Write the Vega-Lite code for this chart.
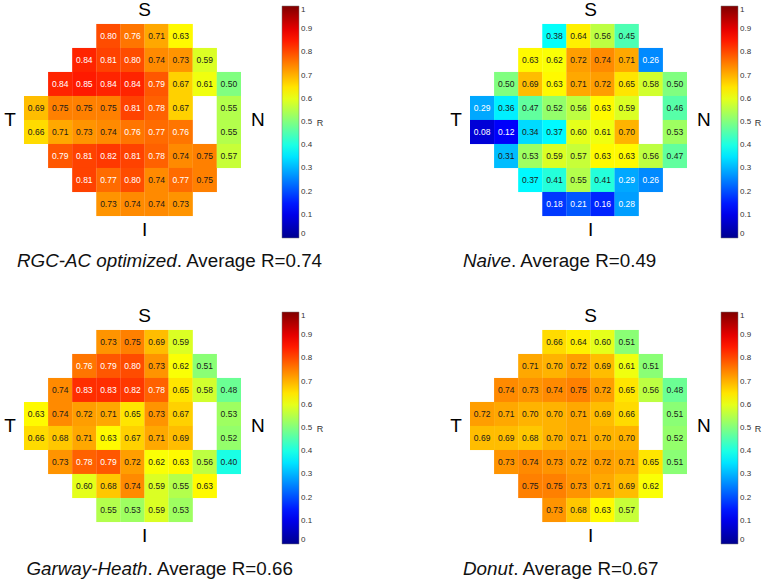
{
  "$schema": "https://vega.github.io/schema/vega-lite/v6.json",
  "padding": 0,
  "background": "white",
  "datasets": {
    "p1": [
      {"c":3,"r":0,"v":0.80},{"c":4,"r":0,"v":0.76},{"c":5,"r":0,"v":0.71},{"c":6,"r":0,"v":0.63},
      {"c":2,"r":1,"v":0.84},{"c":3,"r":1,"v":0.81},{"c":4,"r":1,"v":0.80},{"c":5,"r":1,"v":0.74},{"c":6,"r":1,"v":0.73},{"c":7,"r":1,"v":0.59},
      {"c":1,"r":2,"v":0.84},{"c":2,"r":2,"v":0.85},{"c":3,"r":2,"v":0.84},{"c":4,"r":2,"v":0.84},{"c":5,"r":2,"v":0.79},{"c":6,"r":2,"v":0.67},{"c":7,"r":2,"v":0.61},{"c":8,"r":2,"v":0.50},
      {"c":0,"r":3,"v":0.69},{"c":1,"r":3,"v":0.75},{"c":2,"r":3,"v":0.75},{"c":3,"r":3,"v":0.75},{"c":4,"r":3,"v":0.81},{"c":5,"r":3,"v":0.78},{"c":6,"r":3,"v":0.67},{"c":8,"r":3,"v":0.55},
      {"c":0,"r":4,"v":0.66},{"c":1,"r":4,"v":0.71},{"c":2,"r":4,"v":0.73},{"c":3,"r":4,"v":0.74},{"c":4,"r":4,"v":0.76},{"c":5,"r":4,"v":0.77},{"c":6,"r":4,"v":0.76},{"c":8,"r":4,"v":0.55},
      {"c":1,"r":5,"v":0.79},{"c":2,"r":5,"v":0.81},{"c":3,"r":5,"v":0.82},{"c":4,"r":5,"v":0.81},{"c":5,"r":5,"v":0.78},{"c":6,"r":5,"v":0.74},{"c":7,"r":5,"v":0.75},{"c":8,"r":5,"v":0.57},
      {"c":2,"r":6,"v":0.81},{"c":3,"r":6,"v":0.77},{"c":4,"r":6,"v":0.80},{"c":5,"r":6,"v":0.74},{"c":6,"r":6,"v":0.77},{"c":7,"r":6,"v":0.75},
      {"c":3,"r":7,"v":0.73},{"c":4,"r":7,"v":0.74},{"c":5,"r":7,"v":0.74},{"c":6,"r":7,"v":0.73}
    ],
    "p2": [
      {"c":3,"r":0,"v":0.38},{"c":4,"r":0,"v":0.64},{"c":5,"r":0,"v":0.56},{"c":6,"r":0,"v":0.45},
      {"c":2,"r":1,"v":0.63},{"c":3,"r":1,"v":0.62},{"c":4,"r":1,"v":0.72},{"c":5,"r":1,"v":0.74},{"c":6,"r":1,"v":0.71},{"c":7,"r":1,"v":0.26},
      {"c":1,"r":2,"v":0.50},{"c":2,"r":2,"v":0.69},{"c":3,"r":2,"v":0.63},{"c":4,"r":2,"v":0.71},{"c":5,"r":2,"v":0.72},{"c":6,"r":2,"v":0.65},{"c":7,"r":2,"v":0.58},{"c":8,"r":2,"v":0.50},
      {"c":0,"r":3,"v":0.29},{"c":1,"r":3,"v":0.36},{"c":2,"r":3,"v":0.47},{"c":3,"r":3,"v":0.52},{"c":4,"r":3,"v":0.56},{"c":5,"r":3,"v":0.63},{"c":6,"r":3,"v":0.59},{"c":8,"r":3,"v":0.46},
      {"c":0,"r":4,"v":0.08},{"c":1,"r":4,"v":0.12},{"c":2,"r":4,"v":0.34},{"c":3,"r":4,"v":0.37},{"c":4,"r":4,"v":0.60},{"c":5,"r":4,"v":0.61},{"c":6,"r":4,"v":0.70},{"c":8,"r":4,"v":0.53},
      {"c":1,"r":5,"v":0.31},{"c":2,"r":5,"v":0.53},{"c":3,"r":5,"v":0.59},{"c":4,"r":5,"v":0.57},{"c":5,"r":5,"v":0.63},{"c":6,"r":5,"v":0.63},{"c":7,"r":5,"v":0.56},{"c":8,"r":5,"v":0.47},
      {"c":2,"r":6,"v":0.37},{"c":3,"r":6,"v":0.41},{"c":4,"r":6,"v":0.55},{"c":5,"r":6,"v":0.41},{"c":6,"r":6,"v":0.29},{"c":7,"r":6,"v":0.26},
      {"c":3,"r":7,"v":0.18},{"c":4,"r":7,"v":0.21},{"c":5,"r":7,"v":0.16},{"c":6,"r":7,"v":0.28}
    ],
    "p3": [
      {"c":3,"r":0,"v":0.73},{"c":4,"r":0,"v":0.75},{"c":5,"r":0,"v":0.69},{"c":6,"r":0,"v":0.59},
      {"c":2,"r":1,"v":0.76},{"c":3,"r":1,"v":0.79},{"c":4,"r":1,"v":0.80},{"c":5,"r":1,"v":0.73},{"c":6,"r":1,"v":0.62},{"c":7,"r":1,"v":0.51},
      {"c":1,"r":2,"v":0.74},{"c":2,"r":2,"v":0.83},{"c":3,"r":2,"v":0.83},{"c":4,"r":2,"v":0.82},{"c":5,"r":2,"v":0.78},{"c":6,"r":2,"v":0.65},{"c":7,"r":2,"v":0.58},{"c":8,"r":2,"v":0.48},
      {"c":0,"r":3,"v":0.63},{"c":1,"r":3,"v":0.74},{"c":2,"r":3,"v":0.72},{"c":3,"r":3,"v":0.71},{"c":4,"r":3,"v":0.65},{"c":5,"r":3,"v":0.73},{"c":6,"r":3,"v":0.67},{"c":8,"r":3,"v":0.53},
      {"c":0,"r":4,"v":0.66},{"c":1,"r":4,"v":0.68},{"c":2,"r":4,"v":0.71},{"c":3,"r":4,"v":0.63},{"c":4,"r":4,"v":0.67},{"c":5,"r":4,"v":0.71},{"c":6,"r":4,"v":0.69},{"c":8,"r":4,"v":0.52},
      {"c":1,"r":5,"v":0.73},{"c":2,"r":5,"v":0.78},{"c":3,"r":5,"v":0.79},{"c":4,"r":5,"v":0.72},{"c":5,"r":5,"v":0.62},{"c":6,"r":5,"v":0.63},{"c":7,"r":5,"v":0.56},{"c":8,"r":5,"v":0.40},
      {"c":2,"r":6,"v":0.60},{"c":3,"r":6,"v":0.68},{"c":4,"r":6,"v":0.74},{"c":5,"r":6,"v":0.59},{"c":6,"r":6,"v":0.55},{"c":7,"r":6,"v":0.63},
      {"c":3,"r":7,"v":0.55},{"c":4,"r":7,"v":0.53},{"c":5,"r":7,"v":0.59},{"c":6,"r":7,"v":0.53}
    ],
    "p4": [
      {"c":3,"r":0,"v":0.66},{"c":4,"r":0,"v":0.64},{"c":5,"r":0,"v":0.60},{"c":6,"r":0,"v":0.51},
      {"c":2,"r":1,"v":0.71},{"c":3,"r":1,"v":0.70},{"c":4,"r":1,"v":0.72},{"c":5,"r":1,"v":0.69},{"c":6,"r":1,"v":0.61},{"c":7,"r":1,"v":0.51},
      {"c":1,"r":2,"v":0.74},{"c":2,"r":2,"v":0.73},{"c":3,"r":2,"v":0.74},{"c":4,"r":2,"v":0.75},{"c":5,"r":2,"v":0.72},{"c":6,"r":2,"v":0.65},{"c":7,"r":2,"v":0.56},{"c":8,"r":2,"v":0.48},
      {"c":0,"r":3,"v":0.72},{"c":1,"r":3,"v":0.71},{"c":2,"r":3,"v":0.70},{"c":3,"r":3,"v":0.70},{"c":4,"r":3,"v":0.71},{"c":5,"r":3,"v":0.69},{"c":6,"r":3,"v":0.66},{"c":8,"r":3,"v":0.51},
      {"c":0,"r":4,"v":0.69},{"c":1,"r":4,"v":0.69},{"c":2,"r":4,"v":0.68},{"c":3,"r":4,"v":0.70},{"c":4,"r":4,"v":0.71},{"c":5,"r":4,"v":0.70},{"c":6,"r":4,"v":0.70},{"c":8,"r":4,"v":0.52},
      {"c":1,"r":5,"v":0.73},{"c":2,"r":5,"v":0.74},{"c":3,"r":5,"v":0.73},{"c":4,"r":5,"v":0.72},{"c":5,"r":5,"v":0.72},{"c":6,"r":5,"v":0.71},{"c":7,"r":5,"v":0.65},{"c":8,"r":5,"v":0.51},
      {"c":2,"r":6,"v":0.75},{"c":3,"r":6,"v":0.75},{"c":4,"r":6,"v":0.73},{"c":5,"r":6,"v":0.71},{"c":6,"r":6,"v":0.69},{"c":7,"r":6,"v":0.62},
      {"c":3,"r":7,"v":0.73},{"c":4,"r":7,"v":0.68},{"c":5,"r":7,"v":0.63},{"c":6,"r":7,"v":0.57}
    ]
  },
  "columns": 2,
  "spacing": {"row": 30, "column": 122},
  "resolve": {"scale": {"color": "independent"}, "legend": {"color": "independent"}},
  "concat": [
    {
      "width": 265, "height": 276,
      "layer": [
        {"data": {"name": "p1"}, "mark": {"type": "rect", "width": 24.3, "height": 24.1},
         "encoding": {
           "x": {"field": "c", "type": "quantitative", "scale": {"domain": [-1.5, 9.5], "nice": false, "zero": false}, "axis": null},
           "y": {"field": "r", "type": "quantitative", "scale": {"domain": [-1.5, 10], "nice": false, "zero": false, "reverse": true}, "axis": null},
           "color": {"field": "v", "type": "quantitative", "title": null,
             "scale": {"type": "linear", "domain": [0, 0.125, 0.375, 0.625, 0.875, 1], "range": ["#00008f", "#0000ff", "#00ffff", "#ffff00", "#ff0000", "#800000"], "interpolate": "rgb"},
             "legend": {"values": [0, 0.1, 0.2, 0.3, 0.4, 0.5, 0.6, 0.7, 0.8, 0.9, 1], "format": "~g", "offset": 11}}
         }},
        {"data": {"name": "p1"}, "mark": {"type": "text", "fontSize": 8.5, "font": "Liberation Sans"},
         "encoding": {
           "x": {"field": "c", "type": "quantitative", "axis": null},
           "y": {"field": "r", "type": "quantitative", "axis": null},
           "text": {"field": "v", "type": "quantitative", "format": ".2f"},
           "color": {"condition": {"test": "datum.v >= 0.755 || datum.v < 0.295", "value": "white"}, "value": "#1a1a1a"}
         }},
        {"data": {"values": [{}]}, "mark": {"type": "text", "text": "S", "fontSize": 19, "font": "Liberation Sans", "color": "black"},
         "encoding": {"x": {"datum": 4.5, "type": "quantitative", "axis": null}, "y": {"datum": -1.08, "type": "quantitative", "axis": null}}},
        {"data": {"values": [{}]}, "mark": {"type": "text", "text": "I", "fontSize": 19, "font": "Liberation Sans", "color": "black"},
         "encoding": {"x": {"datum": 4.5, "type": "quantitative", "axis": null}, "y": {"datum": 8.08, "type": "quantitative", "axis": null}}},
        {"data": {"values": [{}]}, "mark": {"type": "text", "text": "T", "fontSize": 19, "font": "Liberation Sans", "color": "black"},
         "encoding": {"x": {"datum": -1.085, "type": "quantitative", "axis": null}, "y": {"datum": 3.5, "type": "quantitative", "axis": null}}},
        {"data": {"values": [{}]}, "mark": {"type": "text", "text": "N", "fontSize": 19, "font": "Liberation Sans", "color": "black"},
         "encoding": {"x": {"datum": 9.2, "type": "quantitative", "axis": null}, "y": {"datum": 3.5, "type": "quantitative", "axis": null}}},
        {"data": {"values": [{}]}, "mark": {"type": "text", "text": "R", "fontSize": 9, "font": "Liberation Sans", "color": "#333"},
         "encoding": {"x": {"datum": 11.78, "type": "quantitative", "axis": null}, "y": {"datum": 3.62, "type": "quantitative", "axis": null}}},
        {"data": {"values": [{}]}, "mark": {"type": "text", "text": "RGC-AC optimized", "fontStyle": "italic", "align": "right", "fontSize": 18.8, "font": "Liberation Sans", "color": "#111"},
         "encoding": {"x": {"datum": 5.836, "type": "quantitative", "axis": null}, "y": {"datum": 9.375, "type": "quantitative", "axis": null}}},
        {"data": {"values": [{}]}, "mark": {"type": "text", "text": ". Average R=0.74", "align": "left", "fontSize": 18.8, "font": "Liberation Sans", "color": "#111"},
         "encoding": {"x": {"datum": 5.836, "type": "quantitative", "axis": null}, "y": {"datum": 9.375, "type": "quantitative", "axis": null}}}
      ]
    },
    {
      "width": 265, "height": 276,
      "layer": [
        {"data": {"name": "p2"}, "mark": {"type": "rect", "width": 24.3, "height": 24.1},
         "encoding": {
           "x": {"field": "c", "type": "quantitative", "scale": {"domain": [-1.5, 9.5], "nice": false, "zero": false}, "axis": null},
           "y": {"field": "r", "type": "quantitative", "scale": {"domain": [-1.5, 10], "nice": false, "zero": false, "reverse": true}, "axis": null},
           "color": {"field": "v", "type": "quantitative", "title": null,
             "scale": {"type": "linear", "domain": [0, 0.125, 0.375, 0.625, 0.875, 1], "range": ["#00008f", "#0000ff", "#00ffff", "#ffff00", "#ff0000", "#800000"], "interpolate": "rgb"},
             "legend": {"values": [0, 0.1, 0.2, 0.3, 0.4, 0.5, 0.6, 0.7, 0.8, 0.9, 1], "format": "~g", "offset": 4}}
         }},
        {"data": {"name": "p2"}, "mark": {"type": "text", "fontSize": 8.5, "font": "Liberation Sans"},
         "encoding": {
           "x": {"field": "c", "type": "quantitative", "axis": null},
           "y": {"field": "r", "type": "quantitative", "axis": null},
           "text": {"field": "v", "type": "quantitative", "format": ".2f"},
           "color": {"condition": {"test": "datum.v >= 0.755 || datum.v < 0.295", "value": "white"}, "value": "#1a1a1a"}
         }},
        {"data": {"values": [{}]}, "mark": {"type": "text", "text": "S", "fontSize": 19, "font": "Liberation Sans", "color": "black"},
         "encoding": {"x": {"datum": 4.5, "type": "quantitative", "axis": null}, "y": {"datum": -1.08, "type": "quantitative", "axis": null}}},
        {"data": {"values": [{}]}, "mark": {"type": "text", "text": "I", "fontSize": 19, "font": "Liberation Sans", "color": "black"},
         "encoding": {"x": {"datum": 4.5, "type": "quantitative", "axis": null}, "y": {"datum": 8.08, "type": "quantitative", "axis": null}}},
        {"data": {"values": [{}]}, "mark": {"type": "text", "text": "T", "fontSize": 19, "font": "Liberation Sans", "color": "black"},
         "encoding": {"x": {"datum": -1.085, "type": "quantitative", "axis": null}, "y": {"datum": 3.5, "type": "quantitative", "axis": null}}},
        {"data": {"values": [{}]}, "mark": {"type": "text", "text": "N", "fontSize": 19, "font": "Liberation Sans", "color": "black"},
         "encoding": {"x": {"datum": 9.2, "type": "quantitative", "axis": null}, "y": {"datum": 3.5, "type": "quantitative", "axis": null}}},
        {"data": {"values": [{}]}, "mark": {"type": "text", "text": "R", "fontSize": 9, "font": "Liberation Sans", "color": "#333"},
         "encoding": {"x": {"datum": 11.45, "type": "quantitative", "axis": null}, "y": {"datum": 3.62, "type": "quantitative", "axis": null}}},
        {"data": {"values": [{}]}, "mark": {"type": "text", "text": "Naive", "fontStyle": "italic", "align": "right", "fontSize": 18.8, "font": "Liberation Sans", "color": "#111"},
         "encoding": {"x": {"datum": 1.197, "type": "quantitative", "axis": null}, "y": {"datum": 9.375, "type": "quantitative", "axis": null}}},
        {"data": {"values": [{}]}, "mark": {"type": "text", "text": ". Average R=0.49", "align": "left", "fontSize": 18.8, "font": "Liberation Sans", "color": "#111"},
         "encoding": {"x": {"datum": 1.197, "type": "quantitative", "axis": null}, "y": {"datum": 9.375, "type": "quantitative", "axis": null}}}
      ]
    },
    {
      "width": 265, "height": 276,
      "layer": [
        {"data": {"name": "p3"}, "mark": {"type": "rect", "width": 24.3, "height": 24.1},
         "encoding": {
           "x": {"field": "c", "type": "quantitative", "scale": {"domain": [-1.5, 9.5], "nice": false, "zero": false}, "axis": null},
           "y": {"field": "r", "type": "quantitative", "scale": {"domain": [-1.5, 10], "nice": false, "zero": false, "reverse": true}, "axis": null},
           "color": {"field": "v", "type": "quantitative", "title": null,
             "scale": {"type": "linear", "domain": [0, 0.125, 0.375, 0.625, 0.875, 1], "range": ["#00008f", "#0000ff", "#00ffff", "#ffff00", "#ff0000", "#800000"], "interpolate": "rgb"},
             "legend": {"values": [0, 0.1, 0.2, 0.3, 0.4, 0.5, 0.6, 0.7, 0.8, 0.9, 1], "format": "~g", "offset": 11}}
         }},
        {"data": {"name": "p3"}, "mark": {"type": "text", "fontSize": 8.5, "font": "Liberation Sans"},
         "encoding": {
           "x": {"field": "c", "type": "quantitative", "axis": null},
           "y": {"field": "r", "type": "quantitative", "axis": null},
           "text": {"field": "v", "type": "quantitative", "format": ".2f"},
           "color": {"condition": {"test": "datum.v >= 0.755 || datum.v < 0.295", "value": "white"}, "value": "#1a1a1a"}
         }},
        {"data": {"values": [{}]}, "mark": {"type": "text", "text": "S", "fontSize": 19, "font": "Liberation Sans", "color": "black"},
         "encoding": {"x": {"datum": 4.5, "type": "quantitative", "axis": null}, "y": {"datum": -1.08, "type": "quantitative", "axis": null}}},
        {"data": {"values": [{}]}, "mark": {"type": "text", "text": "I", "fontSize": 19, "font": "Liberation Sans", "color": "black"},
         "encoding": {"x": {"datum": 4.5, "type": "quantitative", "axis": null}, "y": {"datum": 8.08, "type": "quantitative", "axis": null}}},
        {"data": {"values": [{}]}, "mark": {"type": "text", "text": "T", "fontSize": 19, "font": "Liberation Sans", "color": "black"},
         "encoding": {"x": {"datum": -1.085, "type": "quantitative", "axis": null}, "y": {"datum": 3.5, "type": "quantitative", "axis": null}}},
        {"data": {"values": [{}]}, "mark": {"type": "text", "text": "N", "fontSize": 19, "font": "Liberation Sans", "color": "black"},
         "encoding": {"x": {"datum": 9.2, "type": "quantitative", "axis": null}, "y": {"datum": 3.5, "type": "quantitative", "axis": null}}},
        {"data": {"values": [{}]}, "mark": {"type": "text", "text": "R", "fontSize": 9, "font": "Liberation Sans", "color": "#333"},
         "encoding": {"x": {"datum": 11.78, "type": "quantitative", "axis": null}, "y": {"datum": 3.62, "type": "quantitative", "axis": null}}},
        {"data": {"values": [{}]}, "mark": {"type": "text", "text": "Garway-Heath", "fontStyle": "italic", "align": "right", "fontSize": 18.8, "font": "Liberation Sans", "color": "#111"},
         "encoding": {"x": {"datum": 4.625, "type": "quantitative", "axis": null}, "y": {"datum": 9.45, "type": "quantitative", "axis": null}}},
        {"data": {"values": [{}]}, "mark": {"type": "text", "text": ". Average R=0.66", "align": "left", "fontSize": 18.8, "font": "Liberation Sans", "color": "#111"},
         "encoding": {"x": {"datum": 4.625, "type": "quantitative", "axis": null}, "y": {"datum": 9.45, "type": "quantitative", "axis": null}}}
      ]
    },
    {
      "width": 265, "height": 276,
      "layer": [
        {"data": {"name": "p4"}, "mark": {"type": "rect", "width": 24.3, "height": 24.1},
         "encoding": {
           "x": {"field": "c", "type": "quantitative", "scale": {"domain": [-1.5, 9.5], "nice": false, "zero": false}, "axis": null},
           "y": {"field": "r", "type": "quantitative", "scale": {"domain": [-1.5, 10], "nice": false, "zero": false, "reverse": true}, "axis": null},
           "color": {"field": "v", "type": "quantitative", "title": null,
             "scale": {"type": "linear", "domain": [0, 0.125, 0.375, 0.625, 0.875, 1], "range": ["#00008f", "#0000ff", "#00ffff", "#ffff00", "#ff0000", "#800000"], "interpolate": "rgb"},
             "legend": {"values": [0, 0.1, 0.2, 0.3, 0.4, 0.5, 0.6, 0.7, 0.8, 0.9, 1], "format": "~g", "offset": 4}}
         }},
        {"data": {"name": "p4"}, "mark": {"type": "text", "fontSize": 8.5, "font": "Liberation Sans"},
         "encoding": {
           "x": {"field": "c", "type": "quantitative", "axis": null},
           "y": {"field": "r", "type": "quantitative", "axis": null},
           "text": {"field": "v", "type": "quantitative", "format": ".2f"},
           "color": {"condition": {"test": "datum.v >= 0.755 || datum.v < 0.295", "value": "white"}, "value": "#1a1a1a"}
         }},
        {"data": {"values": [{}]}, "mark": {"type": "text", "text": "S", "fontSize": 19, "font": "Liberation Sans", "color": "black"},
         "encoding": {"x": {"datum": 4.5, "type": "quantitative", "axis": null}, "y": {"datum": -1.08, "type": "quantitative", "axis": null}}},
        {"data": {"values": [{}]}, "mark": {"type": "text", "text": "I", "fontSize": 19, "font": "Liberation Sans", "color": "black"},
         "encoding": {"x": {"datum": 4.5, "type": "quantitative", "axis": null}, "y": {"datum": 8.08, "type": "quantitative", "axis": null}}},
        {"data": {"values": [{}]}, "mark": {"type": "text", "text": "T", "fontSize": 19, "font": "Liberation Sans", "color": "black"},
         "encoding": {"x": {"datum": -1.085, "type": "quantitative", "axis": null}, "y": {"datum": 3.5, "type": "quantitative", "axis": null}}},
        {"data": {"values": [{}]}, "mark": {"type": "text", "text": "N", "fontSize": 19, "font": "Liberation Sans", "color": "black"},
         "encoding": {"x": {"datum": 9.2, "type": "quantitative", "axis": null}, "y": {"datum": 3.5, "type": "quantitative", "axis": null}}},
        {"data": {"values": [{}]}, "mark": {"type": "text", "text": "R", "fontSize": 9, "font": "Liberation Sans", "color": "#333"},
         "encoding": {"x": {"datum": 11.45, "type": "quantitative", "axis": null}, "y": {"datum": 3.62, "type": "quantitative", "axis": null}}},
        {"data": {"values": [{}]}, "mark": {"type": "text", "text": "Donut", "fontStyle": "italic", "align": "right", "fontSize": 18.8, "font": "Liberation Sans", "color": "#111"},
         "encoding": {"x": {"datum": 1.288, "type": "quantitative", "axis": null}, "y": {"datum": 9.45, "type": "quantitative", "axis": null}}},
        {"data": {"values": [{}]}, "mark": {"type": "text", "text": ". Average R=0.67", "align": "left", "fontSize": 18.8, "font": "Liberation Sans", "color": "#111"},
         "encoding": {"x": {"datum": 1.288, "type": "quantitative", "axis": null}, "y": {"datum": 9.45, "type": "quantitative", "axis": null}}}
      ]
    }
  ],
  "config": {
    "view": {"stroke": null},
    "legend": {
      "gradientLength": 232, "gradientThickness": 17, "padding": 6,
      "labelFont": "Liberation Sans", "labelFontSize": 8, "labelColor": "#333", "labelOffset": 4, "labelBaseline": "middle",
      "gradientStrokeColor": "#777", "gradientStrokeWidth": 0.5
    }
  }
}
